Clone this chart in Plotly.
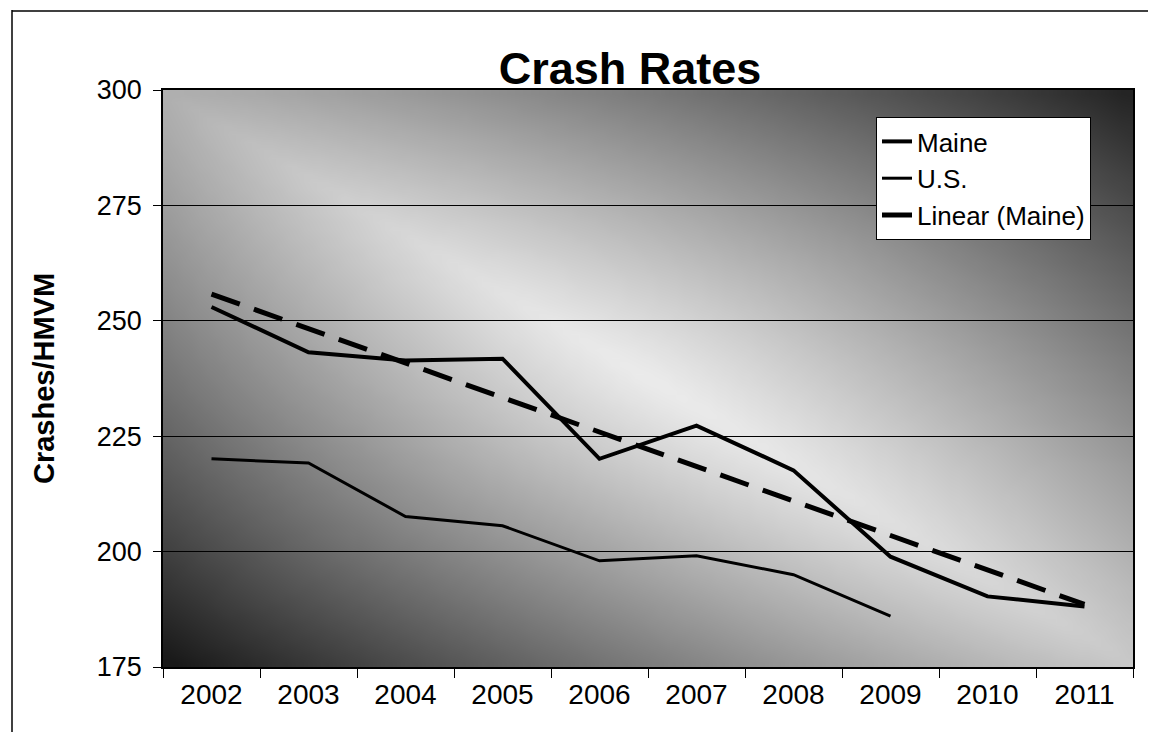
import base64
import struct
import zlib

import numpy as np
import plotly.graph_objects as go

# ---- data ----
years = ["2002", "2003", "2004", "2005", "2006", "2007", "2008", "2009", "2010", "2011"]
maine = [253.0, 243.2, 241.4, 241.8, 220.1, 227.3, 217.6, 198.9, 190.3, 188.1]
us_years = ["2002", "2003", "2004", "2005", "2006", "2007", "2008", "2009"]
us = [220.1, 219.2, 207.6, 205.6, 198.0, 199.1, 195.0, 186.0]
y_ticks = [175, 200, 225, 250, 275, 300]

# linear trend of Maine (Excel-style trendline)
xi = np.arange(len(maine))
slope, intercept = np.polyfit(xi, maine, 1)
trend = (slope * xi + intercept).tolist()


# ---- diagonal gradient background (dark bottom-left / top-right corners) ----
def gradient_png(w=120, h=72):
    xf = np.linspace(0, 1, w)[None, :]
    yf = np.linspace(0, 1, h)[:, None]
    d = xf - yf
    s = xf + yf - 1
    dark = np.where(d > 0, 200.0, 212.0)
    ends = np.where(s < 0, 60.0, 35.0)
    g = 236 - dark * np.abs(d) ** 1.1 - ends * np.abs(s) ** 1.6
    g = np.clip(g, 25, 255).astype(np.uint8)
    raw = b"".join(b"\x00" + row.tobytes() for row in g)

    def chunk(t, data):
        return (struct.pack(">I", len(data)) + t + data
                + struct.pack(">I", zlib.crc32(t + data) & 0xFFFFFFFF))

    png = (b"\x89PNG\r\n\x1a\n"
           + chunk(b"IHDR", struct.pack(">IIBBBBB", w, h, 8, 0, 0, 0, 0))
           + chunk(b"IDAT", zlib.compress(raw, 9))
           + chunk(b"IEND", b""))
    return "data:image/png;base64," + base64.b64encode(png).decode()


FONT = "Arial, Liberation Sans, sans-serif"

# page is offset by the 8px body margin; plot area sits at page x 163..1133, y 90..667
W, H = 1140, 724


def px(x):
    return (x - 163) / 970


def py(y):
    return (667 - y) / 577


fig = go.Figure()
fig.add_trace(go.Scatter(x=years, y=maine, name="Maine", mode="lines",
                         line=dict(color="black", width=4)))
fig.add_trace(go.Scatter(x=us_years, y=us, name="U.S.", mode="lines",
                         line=dict(color="black", width=3)))
fig.add_trace(go.Scatter(x=years, y=trend, name="Linear (Maine)", mode="lines",
                         line=dict(color="black", width=5, dash="30px,15px")))

fig.update_layout(
    width=W, height=H,
    margin=dict(l=155, r=15, t=82, b=65),
    paper_bgcolor="white",
    plot_bgcolor="rgba(0,0,0,0)",
    font=dict(family=FONT, color="black"),
    title=dict(text="<b>Crash Rates</b>", x=(630 - 8) / W, xanchor="center",
               y=1 - (68 - 8) / H, yanchor="middle",
               font=dict(size=45, family=FONT, color="black")),
    showlegend=True,
    legend=dict(x=px(876), xanchor="left", y=py(117), yanchor="top",
                bgcolor="white", bordercolor="black", borderwidth=1,
                font=dict(size=26, family=FONT), tracegroupgap=0,
                itemwidth=30),
    images=[dict(source=gradient_png(), xref="paper", yref="paper",
                 x=0, y=1, sizex=1, sizey=1, xanchor="left", yanchor="top",
                 sizing="stretch", layer="below")],
    shapes=[
        dict(type="line", xref="paper", yref="paper",
             x0=px(12), x1=px(12), y0=py(745), y1=py(10),
             line=dict(color="black", width=1.5)),
        dict(type="line", xref="paper", yref="paper",
             x0=px(12), x1=px(1160), y0=py(11), y1=py(11),
             line=dict(color="black", width=1.5)),
    ],
)

fig.update_xaxes(
    type="category", range=[-0.5, len(years) - 0.5],
    showline=True, linecolor="black", linewidth=1.5, mirror=True,
    ticks="outside", tickson="boundaries", ticklen=9, tickcolor="black",
    showgrid=False, tickfont=dict(size=28, family=FONT),
    ticklabelstandoff=2,
)
fig.update_yaxes(
    range=[175, 300], tickvals=y_ticks,
    showline=True, linecolor="black", linewidth=1.5, mirror=True,
    ticks="outside", ticklen=8, tickcolor="black",
    showgrid=True, gridcolor="black", gridwidth=1,
    tickfont=dict(size=27, family=FONT), ticklabelstandoff=6,
    title=dict(text="<b>Crashes/HMVM</b>", font=dict(size=29, family=FONT),
               standoff=34),
    zeroline=False,
)

fig.write_html("out.html")
